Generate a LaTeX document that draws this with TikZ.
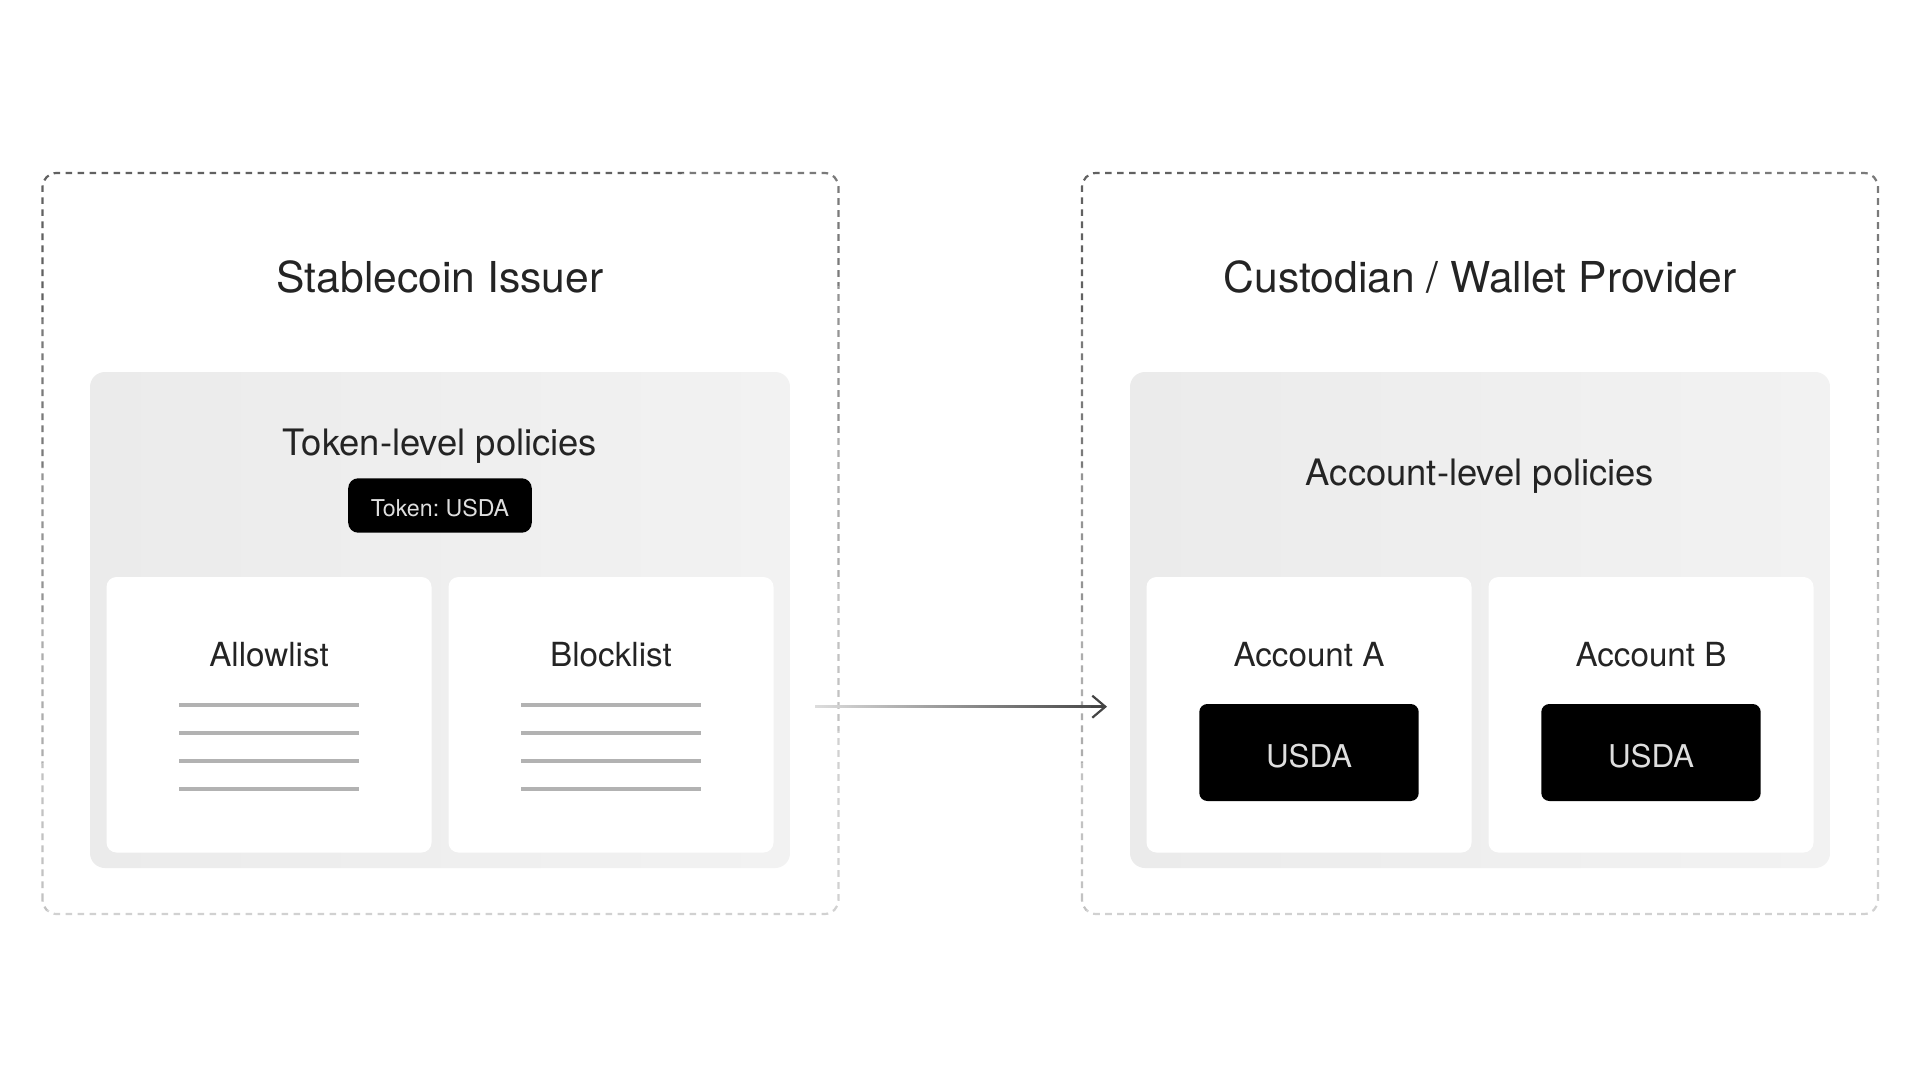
\documentclass[tikz,border=0pt]{standalone}
\usepackage{fontspec}
\setmainfont{TeX Gyre Heros}
\frenchspacing
\usetikzlibrary{arrows.meta, calc}

\definecolor{ink}{HTML}{242424}
\definecolor{panelA}{HTML}{EBEBEB}
\definecolor{panelB}{HTML}{F2F2F2}
\definecolor{chiptext}{HTML}{DEDEDE}
\definecolor{rulegray}{HTML}{B2B2B2}
\definecolor{flowA}{HTML}{DDDDDD}
\definecolor{flowB}{HTML}{444444}

\begin{document}
\begin{tikzpicture}[x=0.5pt, y=-0.5pt,
  every node/.style = {inner sep=0pt, outer sep=0pt},
  zone/.style = {minimum width=398pt, minimum height=370.5pt},
  zonetone/.style = {line width=1.1pt, dash pattern=on 3.3pt off 2.7pt, rounded corners=7pt},
  panel/.style = {rounded corners=7.5pt, left color=panelA, right color=panelB,
                  minimum width=350pt, minimum height=248pt},
  card/.style = {fill=white, rounded corners=5pt, minimum width=162.5pt, minimum height=137.75pt},
  chip/.style = {fill=black, text=chiptext, text depth=0pt},
  title/.style = {anchor=base, text=ink, font=\fontsize{21.3pt}{25pt}\selectfont},
  head/.style = {anchor=base, text=ink, font=\fontsize{18.2pt}{21pt}\selectfont},
  cardlabel/.style = {anchor=base, text=ink, font=\fontsize{16.6pt}{20pt}\selectfont},
  rule/.style = {draw=rulegray, line width=2pt},
  flowtip/.style = {draw=flowB, line width=1.1pt, -{Straight Barb[length=6.5pt, width=11pt]}}]

  \fill[white] (0,0) rectangle (1920,1080);
  \useasboundingbox (0,0) rectangle (1920,1080);

  \node[zone] (issuer) at (440.5,543.5) {};
  \node[zone] (custodian) at (1480,543.5) {};
  % dashed frames, darker towards the top left
  \foreach \zone in {issuer, custodian}
    \foreach \a/\b/\c/\d/\tone in {-0.375/-0.625/0.2/-0.05/black!62, 0.2/-0.05/0.4/0.15/black!52,
                                   0.4/0.15/0.6/0.35/black!42, 0.6/0.35/0.8/0.55/black!32,
                                   0.8/0.55/1.0/0.75/black!24, 1.0/0.75/1.625/1.375/black!18} {
      \begin{scope}
        \clip ($(\zone.north west)!\a!(\zone.south west)+(-5pt,0)$)
           -- ($(\zone.north east)!\b!(\zone.south east)+(5pt,0)$)
           -- ($(\zone.north east)!\d!(\zone.south east)+(5pt,0)$)
           -- ($(\zone.north west)!\c!(\zone.south west)+(-5pt,0)$) -- cycle;
        \draw[zonetone, draw=\tone] (\zone.south west) rectangle (\zone.north east);
      \end{scope}
    }
  \node[title] (issuerT) at (440,293) {Stablecoin Issuer};
  \node[title] (custodianT) at (1480,293) {Custodian / Wallet Provider};

  \node[panel] (tokpol) at (440,620) {};
  \node[panel] (accpol) at (1480,620) {};
  \node[head] (tokpolT) at (440,455) {Token-level policies};
  \node[head] (accpolT) at (1480,485) {Account-level policies};
  \node[chip, rounded corners=5pt, minimum width=91.8pt, minimum height=27.2pt, text height=10.5pt,
        font=\fontsize{11.6pt}{14pt}\selectfont] (tokchip) at (440,505.5) {Token: USDA};

  \node[card] (allow) at (269,714.75) {};
  \node[card] (block) at (611,714.75) {};
  \node[card] (accA) at (1309,714.75) {};
  \node[card] (accB) at (1651,714.75) {};
  \node[cardlabel] (allowT) at (269,666) {Allowlist};
  \node[cardlabel] (blockT) at (611,666) {Blocklist};
  \node[cardlabel] (accAT) at (1309,666) {Account A};
  \node[cardlabel] (accBT) at (1651,666) {Account B};

  \draw[rule] (179,704.7)--(359,704.7) (179,732.7)--(359,732.7)
              (179,760.7)--(359,760.7) (179,788.7)--(359,788.7);
  \draw[rule] (521,704.7)--(701,704.7) (521,732.7)--(701,732.7)
              (521,760.7)--(701,760.7) (521,788.7)--(701,788.7);

  \node[chip, rounded corners=4pt, minimum width=109.7pt, minimum height=48.5pt, text height=15pt,
        font=\fontsize{15.7pt}{19pt}\selectfont] (usdaA) at (1309,752.5) {USDA};
  \node[chip, rounded corners=4pt, minimum width=109.7pt, minimum height=48.5pt, text height=15pt,
        font=\fontsize{15.7pt}{19pt}\selectfont] (usdaB) at (1651,752.5) {USDA};

  \coordinate (flowS) at (815,706.7);
  \coordinate (flowE) at (1107,706.7);
  \shade[left color=flowA, right color=flowB] ([yshift=0.55pt]flowS) rectangle ([yshift=-0.55pt,xshift=-1pt]flowE);
  \draw[flowtip] ([xshift=-8pt]flowE) -- (flowE);
\end{tikzpicture}
\end{document}
